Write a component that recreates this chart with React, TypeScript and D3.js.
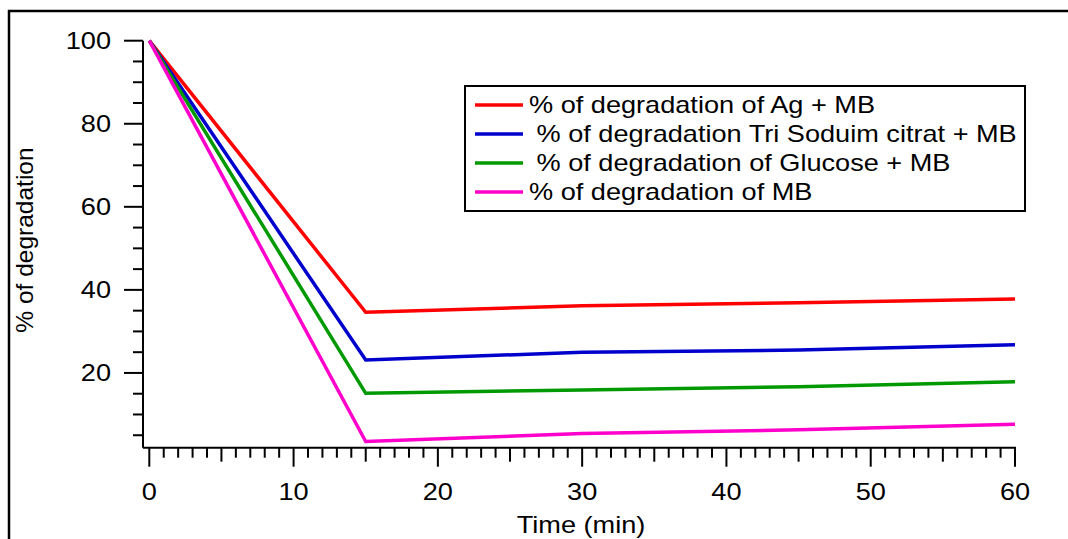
import React from "react";
import * as d3 from "d3";

const time = [0, 15, 30, 45, 60];
const agMB = [100, 34.6, 36.2, 36.9, 37.8];
const tscMB = [100, 23.1, 25.0, 25.5, 26.8];
const glucoseMB = [100, 15.1, 15.9, 16.7, 17.9];
const mbOnly = [100, 3.5, 5.4, 6.3, 7.65];

const seriesNames = [
  "% of degradation of Ag + MB",
  " % of degradation Tri Soduim citrat + MB",
  " % of degradation of Glucose + MB",
  "% of degradation of MB",
];
const seriesColors = ["#ff0000", "#0000cd", "#009a00", "#ff00cc"];
const seriesValues = [agMB, tscMB, glucoseMB, mbOnly];

const xTickLabels = [0, 10, 20, 30, 40, 50, 60];
const yTickLabels = [20, 40, 60, 80, 100];

const W = 1068;
const H = 539;
const FONT = "'Liberation Sans', Arial, sans-serif";
const SX = 1.18;

export default function App() {
  const x = d3.scaleLinear().domain([0, 60]).range([149.3, 1015]);
  const y = d3.scaleLinear().domain([2, 100]).range([447.7, 40.7]);
  const axisLeft = 143;
  const axisBottom = y(2);

  const line = d3
    .line<number>()
    .x((_, i) => x(time[i]))
    .y((d) => y(d));

  const xMinor = d3.range(0, 61, 1);
  const yMinor = d3.range(5, 101, 5);

  const legendX = 465;
  const legendY = 86;
  const legendW = 560;
  const legendH = 125;
  const rowY = (i: number) => 105 + i * 29;

  return (
    <svg
      width={W}
      height={H}
      style={{ position: "absolute", left: 0, top: 0, background: "#fff" }}
      fontFamily={FONT}
    >
      <rect x={0} y={0} width={W} height={H} fill="#fff" />
      {/* outer frame */}
      <rect x={9} y={11} width={1200} height={700} fill="none" stroke="#000" strokeWidth={2.5} />

      {/* axes */}
      <line x1={axisLeft} x2={axisLeft} y1={y(100)} y2={axisBottom} stroke="#000" strokeWidth={2} />
      <line x1={axisLeft} x2={x(60) + 1} y1={axisBottom} y2={axisBottom} stroke="#000" strokeWidth={2} />

      {xMinor.map((t) => {
        const len = t % 10 === 0 ? 19 : t % 5 === 0 ? 14 : 10;
        return (
          <line key={"xt" + t} x1={x(t)} x2={x(t)} y1={axisBottom} y2={axisBottom + len} stroke="#000" strokeWidth={2} />
        );
      })}
      {yMinor.map((t) => {
        const len = t % 20 === 0 ? 19 : 10;
        return (
          <line key={"yt" + t} x1={axisLeft - len} x2={axisLeft} y1={y(t)} y2={y(t)} stroke="#000" strokeWidth={2} />
        );
      })}

      {xTickLabels.map((t) => (
        <text
          key={"xl" + t}
          transform={`translate(${x(t)},500) scale(${SX},1)`}
          textAnchor="middle"
          fontSize={23}
          fill="#000"
        >
          {t}
        </text>
      ))}
      {yTickLabels.map((t) => (
        <text
          key={"yl" + t}
          transform={`translate(111,${y(t) + 8.2}) scale(${SX},1)`}
          textAnchor="end"
          fontSize={23}
          fill="#000"
        >
          {t}
        </text>
      ))}

      <text
        transform={`translate(581,533) scale(${SX},1)`}
        textAnchor="middle"
        fontSize={23}
        fill="#000"
      >
        Time (min)
      </text>
      <text
        transform={`translate(33,240) rotate(-90)`}
        textAnchor="middle"
        fontSize={24.5}
        fill="#000"
      >
        % of degradation
      </text>

      {/* series */}
      {seriesValues.map((vals, i) => (
        <path
          key={"s" + i}
          d={line(vals) || ""}
          fill="none"
          stroke={seriesColors[i]}
          strokeWidth={3.5}
          strokeLinejoin="miter"
        />
      ))}

      {/* legend */}
      <rect x={legendX} y={legendY} width={legendW} height={legendH} fill="#fff" stroke="#000" strokeWidth={2} />
      {seriesNames.map((name, i) => (
        <g key={"lg" + i}>
          <line x1={475} x2={523} y1={rowY(i)} y2={rowY(i)} stroke={seriesColors[i]} strokeWidth={3.5} />
          <text
            transform={`translate(529,${rowY(i) + 8.2}) scale(${SX},1)`}
            fontSize={23}
            fill="#000"
            style={{ whiteSpace: "pre" }}
          >
            {name}
          </text>
        </g>
      ))}
    </svg>
  );
}
